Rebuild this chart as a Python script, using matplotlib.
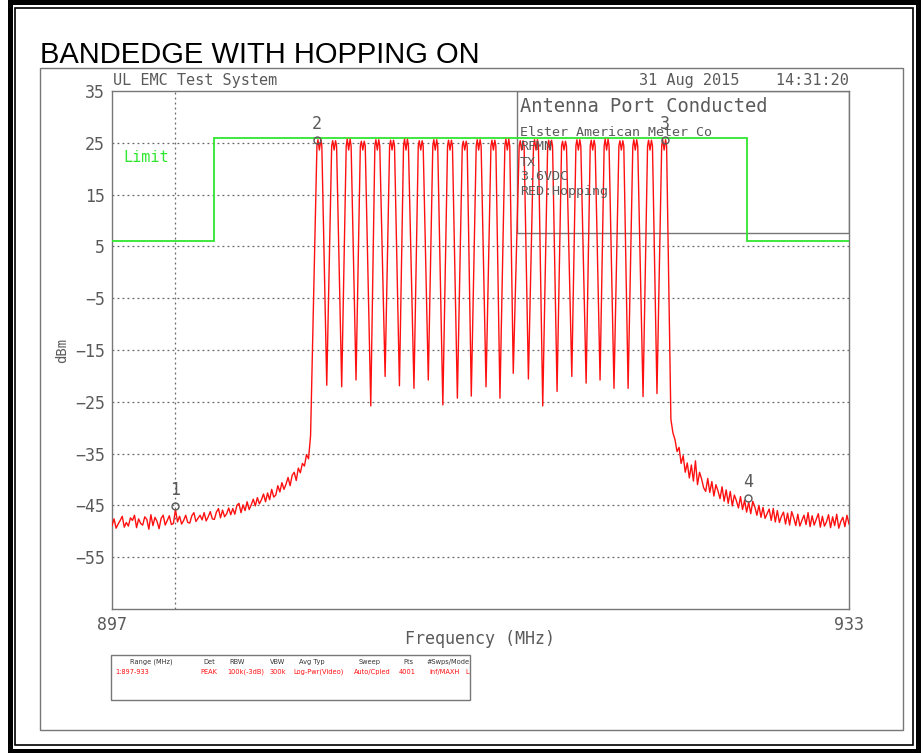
import numpy as np
import matplotlib
matplotlib.use("Agg")
import matplotlib.pyplot as plt
from matplotlib.patches import Rectangle

# sweep settings
F_START, F_STOP = 897.0, 933.0
REF_TOP, REF_BOTTOM = 35, -65
y_ticks = [35, 25, 15, 5, -5, -15, -25, -35, -45, -55]
grid_levels = [25, 15, 5, -5, -15, -25, -35, -45, -55]
grid_freq = 900.1

# limit line (dBm) between band edges
limit_edges_mhz = [897.0, 902.0, 928.0, 933.0]
limit_dbm = [6, 26, 6]

# hopping channels: centre of each carrier and its top levels
channel_mhz = [907.13, 907.85, 908.56, 909.25, 909.96, 910.68, 911.36, 912.08,
               912.79, 913.51, 914.23, 914.91, 915.63, 916.31, 917.01, 917.71,
               918.40, 919.08, 919.78, 920.48, 921.16, 921.88, 922.56, 923.28,
               923.97]
channel_peak_dbm = [25.6, 25.4, 25.7, 25.3, 25.6, 25.5, 25.7, 25.4, 25.6, 25.5,
                    25.3, 25.6, 25.5, 25.7, 25.4, 25.6, 25.5, 25.3, 25.6, 25.5,
                    25.7, 25.4, 25.6, 25.5, 25.6]
channel_dip_dbm = 23.6
channel_shoulder_dbm = 24.4

# notches between neighbouring carriers
valley_mhz = [907.49, 908.22, 908.92, 909.64, 910.34, 911.04, 911.75, 912.45,
              913.16, 913.87, 914.55, 915.27, 915.95, 916.60, 917.34, 918.04,
              918.74, 919.46, 920.16, 920.84, 921.52, 922.21, 922.94, 923.62]
valley_dbm = [-21.8, -22.1, -20.8, -25.8, -20.1, -21.9, -22.4, -20.8, -25.6,
              -24.3, -23.9, -22.1, -24.3, -19.5, -20.6, -25.8, -23.0, -20.1,
              -21.4, -20.8, -22.4, -22.4, -24.0, -23.4]

# noise skirt below the band, 897.0 .. 906.7 MHz in 0.1 MHz steps
left_skirt_dbm = [
    -48.9, -47.6, -49.4, -48.6, -47.9, -47.1, -49.2, -48.3, -49.0, -47.4,
    -47.9, -46.9, -49.3, -47.6, -48.5, -48.8, -47.2, -47.7, -49.6, -46.8,
    -48.9, -47.3, -48.1, -49.5, -47.5, -46.9, -48.8, -47.9, -47.0, -48.7,
    -48.5, -45.8, -48.2, -47.1, -48.6, -47.9, -46.9, -48.3, -48.4, -47.0,
    -46.4, -48.1, -47.5, -46.9, -47.8, -46.4, -48.0, -47.2, -46.2, -47.6,
    -47.7, -46.3, -45.6, -47.4, -45.9, -47.2, -46.6, -45.5, -46.8, -45.6,
    -46.7, -45.0, -44.6, -46.4, -44.9, -46.0, -44.3, -45.8, -44.9, -43.8,
    -45.1, -43.5, -44.7, -43.9, -42.8, -44.3, -42.6, -43.9, -41.9, -43.4,
    -43.0, -41.2, -42.4, -40.6, -41.9, -40.9, -39.6, -41.2, -39.2, -38.6,
    -40.2, -37.8, -38.7, -36.9, -37.4, -35.2, -36.0, -31.5]

# noise skirt above the band, 924.3 .. 933.0 MHz in 0.1 MHz steps
right_skirt_dbm = [
    -28.4, -31.0, -32.3, -34.6, -33.8, -36.9, -35.4, -38.6, -36.8, -39.7,
    -37.2, -40.3, -36.4, -41.0, -38.6, -39.9, -41.6, -42.3, -39.8, -42.5,
    -40.4, -43.2, -41.0, -42.2, -43.7, -41.4, -44.2, -42.0, -44.6, -42.3,
    -45.1, -43.0, -44.1, -45.5, -43.3, -45.8, -44.0, -46.3, -44.4, -46.6,
    -44.2, -45.3, -46.9, -45.0, -47.3, -45.4, -47.5, -46.6, -45.7, -47.9,
    -45.6, -48.2, -46.0, -48.3, -47.1, -46.3, -48.6, -46.5, -48.8, -46.2,
    -47.4, -48.9, -46.7, -49.0, -47.9, -46.9, -48.7, -46.4, -49.1, -47.0,
    -48.8, -47.7, -46.6, -49.2, -47.1, -49.0, -48.2, -46.8, -49.3, -47.2,
    -48.9, -46.7, -49.4, -48.1, -47.3, -49.1, -46.9, -48.6]

# markers 1..4
marker_ids = ["1", "2", "3", "4"]
marker_mhz = [900.1, 907.0, 924.0, 928.05]
marker_dbm = [-45.2, 25.5, 25.5, -43.6]

info_lines = ["Elster American Meter Co", "RFMN", "TX", "3.6VDC", "RED:Hopping"]
setup_headers = ["Range (MHz)", "Det", "RBW", "VBW", "Avg Typ", "Sweep", "Pts", "#Swps/Mode"]
setup_values = ["1:897-933", "PEAK", "100k(-3dB)", "300k", "Log-Pwr(Video)", "Auto/Cpled", "4001", "Inf/MAXH", "L"]

# ---- assemble the trace ----
left_f = np.linspace(897.0, 906.7, len(left_skirt_dbm))
right_f = np.linspace(924.3, 933.0, len(right_skirt_dbm))
tr_f = list(left_f)
tr_d = list(left_skirt_dbm)
for i, c in enumerate(channel_mhz):
    if i > 0:
        tr_f.append(valley_mhz[i - 1])
        tr_d.append(valley_dbm[i - 1])
    pk = channel_peak_dbm[i]
    tr_f += [c - 0.12, c - 0.07, c, c + 0.07, c + 0.12]
    tr_d += [channel_shoulder_dbm, pk, channel_dip_dbm, pk, channel_shoulder_dbm]
tr_f += list(right_f)
tr_d += list(right_skirt_dbm)

# ---- figure ----
W, H = 923, 753
fig = plt.figure(figsize=(W / 100, H / 100), dpi=100)


def fx(px):
    return px / W


def fy(py):
    return 1 - py / H


MONO = "DejaVu Sans Mono"
GRAY = "#5a5a5a"
GREEN = "#2fe62f"
RED = "#ff1010"

ax = fig.add_axes([fx(112), fy(609), fx(849) - fx(112), fy(91) - fy(609)])
ax.set_xlim(F_START, F_STOP)
ax.set_ylim(REF_BOTTOM, REF_TOP)

for g in grid_levels:
    ax.axhline(g, color="#666666", lw=0.9, ls=(0, (1.5, 2.5)), zorder=0.5)
ax.axvline(grid_freq, color="#666666", lw=0.9, ls=(0, (1.5, 2.5)), zorder=0.5)

# annotation panel in the upper right corner of the graticule
ax.add_patch(Rectangle((916.78, 7.6), F_STOP - 916.78, REF_TOP - 7.6,
                       facecolor="white", edgecolor="#777777", lw=1.0, zorder=1))

ax.stairs(limit_dbm, limit_edges_mhz, baseline=None, color=GREEN, lw=1.3, zorder=3)
ax.plot(tr_f, tr_d, color=RED, lw=1.0, zorder=4)

for mid, mf, md in zip(marker_ids, marker_mhz, marker_dbm):
    ax.plot(mf, md, marker="o", ms=5, mfc="none", mec=GRAY, mew=1.0, zorder=5)
    ax.annotate(mid, (mf, md), xytext=(0, 5), textcoords="offset points",
                ha="center", va="bottom", fontsize=12, family=MONO, color=GRAY, zorder=5)

ax.set_yticks(y_ticks)
ax.set_yticklabels([str(t).replace("-", "\u2212") for t in y_ticks])
ax.set_xticks([F_START, F_STOP])
ax.set_xticklabels(["897", "933"])
ax.tick_params(length=0, labelsize=12, labelcolor=GRAY, pad=5)
for lab in ax.get_xticklabels() + ax.get_yticklabels():
    lab.set_family(MONO)
for s in ax.spines.values():
    s.set_color("#777777")
    s.set_linewidth(1.0)

# ---- page decoration ----
fig.add_artist(Rectangle((fx(9.5), fy(750.5)), fx(918) - fx(9.5), fy(2) - fy(750.5),
                         transform=fig.transFigure, fill=False, ec="black", lw=3.6))
fig.add_artist(Rectangle((fx(15), fy(745)), fx(913) - fx(15), fy(8) - fy(745),
                         transform=fig.transFigure, fill=False, ec="black", lw=1.2))
fig.add_artist(Rectangle((fx(40), fy(730)), fx(903) - fx(40), fy(68) - fy(730),
                         transform=fig.transFigure, fill=False, ec="#777777", lw=1.0))
fig.add_artist(Rectangle((fx(111), fy(700)), fx(470) - fx(111), fy(655) - fy(700),
                         transform=fig.transFigure, fill=False, ec="#777777", lw=1.0))

fig.text(fx(40), fy(63), "BANDEDGE WITH HOPPING ON", family="Liberation Sans",
         fontsize=21, va="baseline", ha="left", color="black")
fig.text(fx(113), fy(81), "UL EMC Test System", family=MONO, fontsize=11,
         color=GRAY, va="center", ha="left")
fig.text(fx(849), fy(81), "31 Aug 2015    14:31:20", family=MONO, fontsize=11,
         color=GRAY, va="center", ha="right")

fig.text(fx(520), fy(107), "Antenna Port Conducted", family=MONO, fontsize=13.5,
         color=GRAY, va="center", ha="left", zorder=2)
for txt, py in zip(info_lines, [133, 147, 162, 177, 191]):
    fig.text(fx(520), fy(py), txt, family=MONO, fontsize=9.6, color=GRAY,
             va="center", ha="left", zorder=2)

fig.text(fx(123), fy(158), "Limit", family=MONO, fontsize=11, color=GREEN,
         va="center", ha="left")
fig.text(fx(480), fy(639), "Frequency (MHz)", family=MONO, fontsize=12,
         color=GRAY, va="center", ha="center")
fig.text(fx(62), fy(350), "dBm", family=MONO, fontsize=10, color=GRAY,
         va="center", ha="center", rotation=90)

for txt, px in zip(setup_headers, [130, 203, 229, 270, 299, 359, 403, 426]):
    fig.text(fx(px), fy(662), txt, fontsize=4.8, color="#333333", va="center", ha="left")
for txt, px in zip(setup_values, [115, 200, 227, 270, 293, 354, 399, 429, 465]):
    fig.text(fx(px), fy(672), txt, fontsize=4.8, color=RED, va="center", ha="left")

fig.savefig("out.png", dpi=100)
